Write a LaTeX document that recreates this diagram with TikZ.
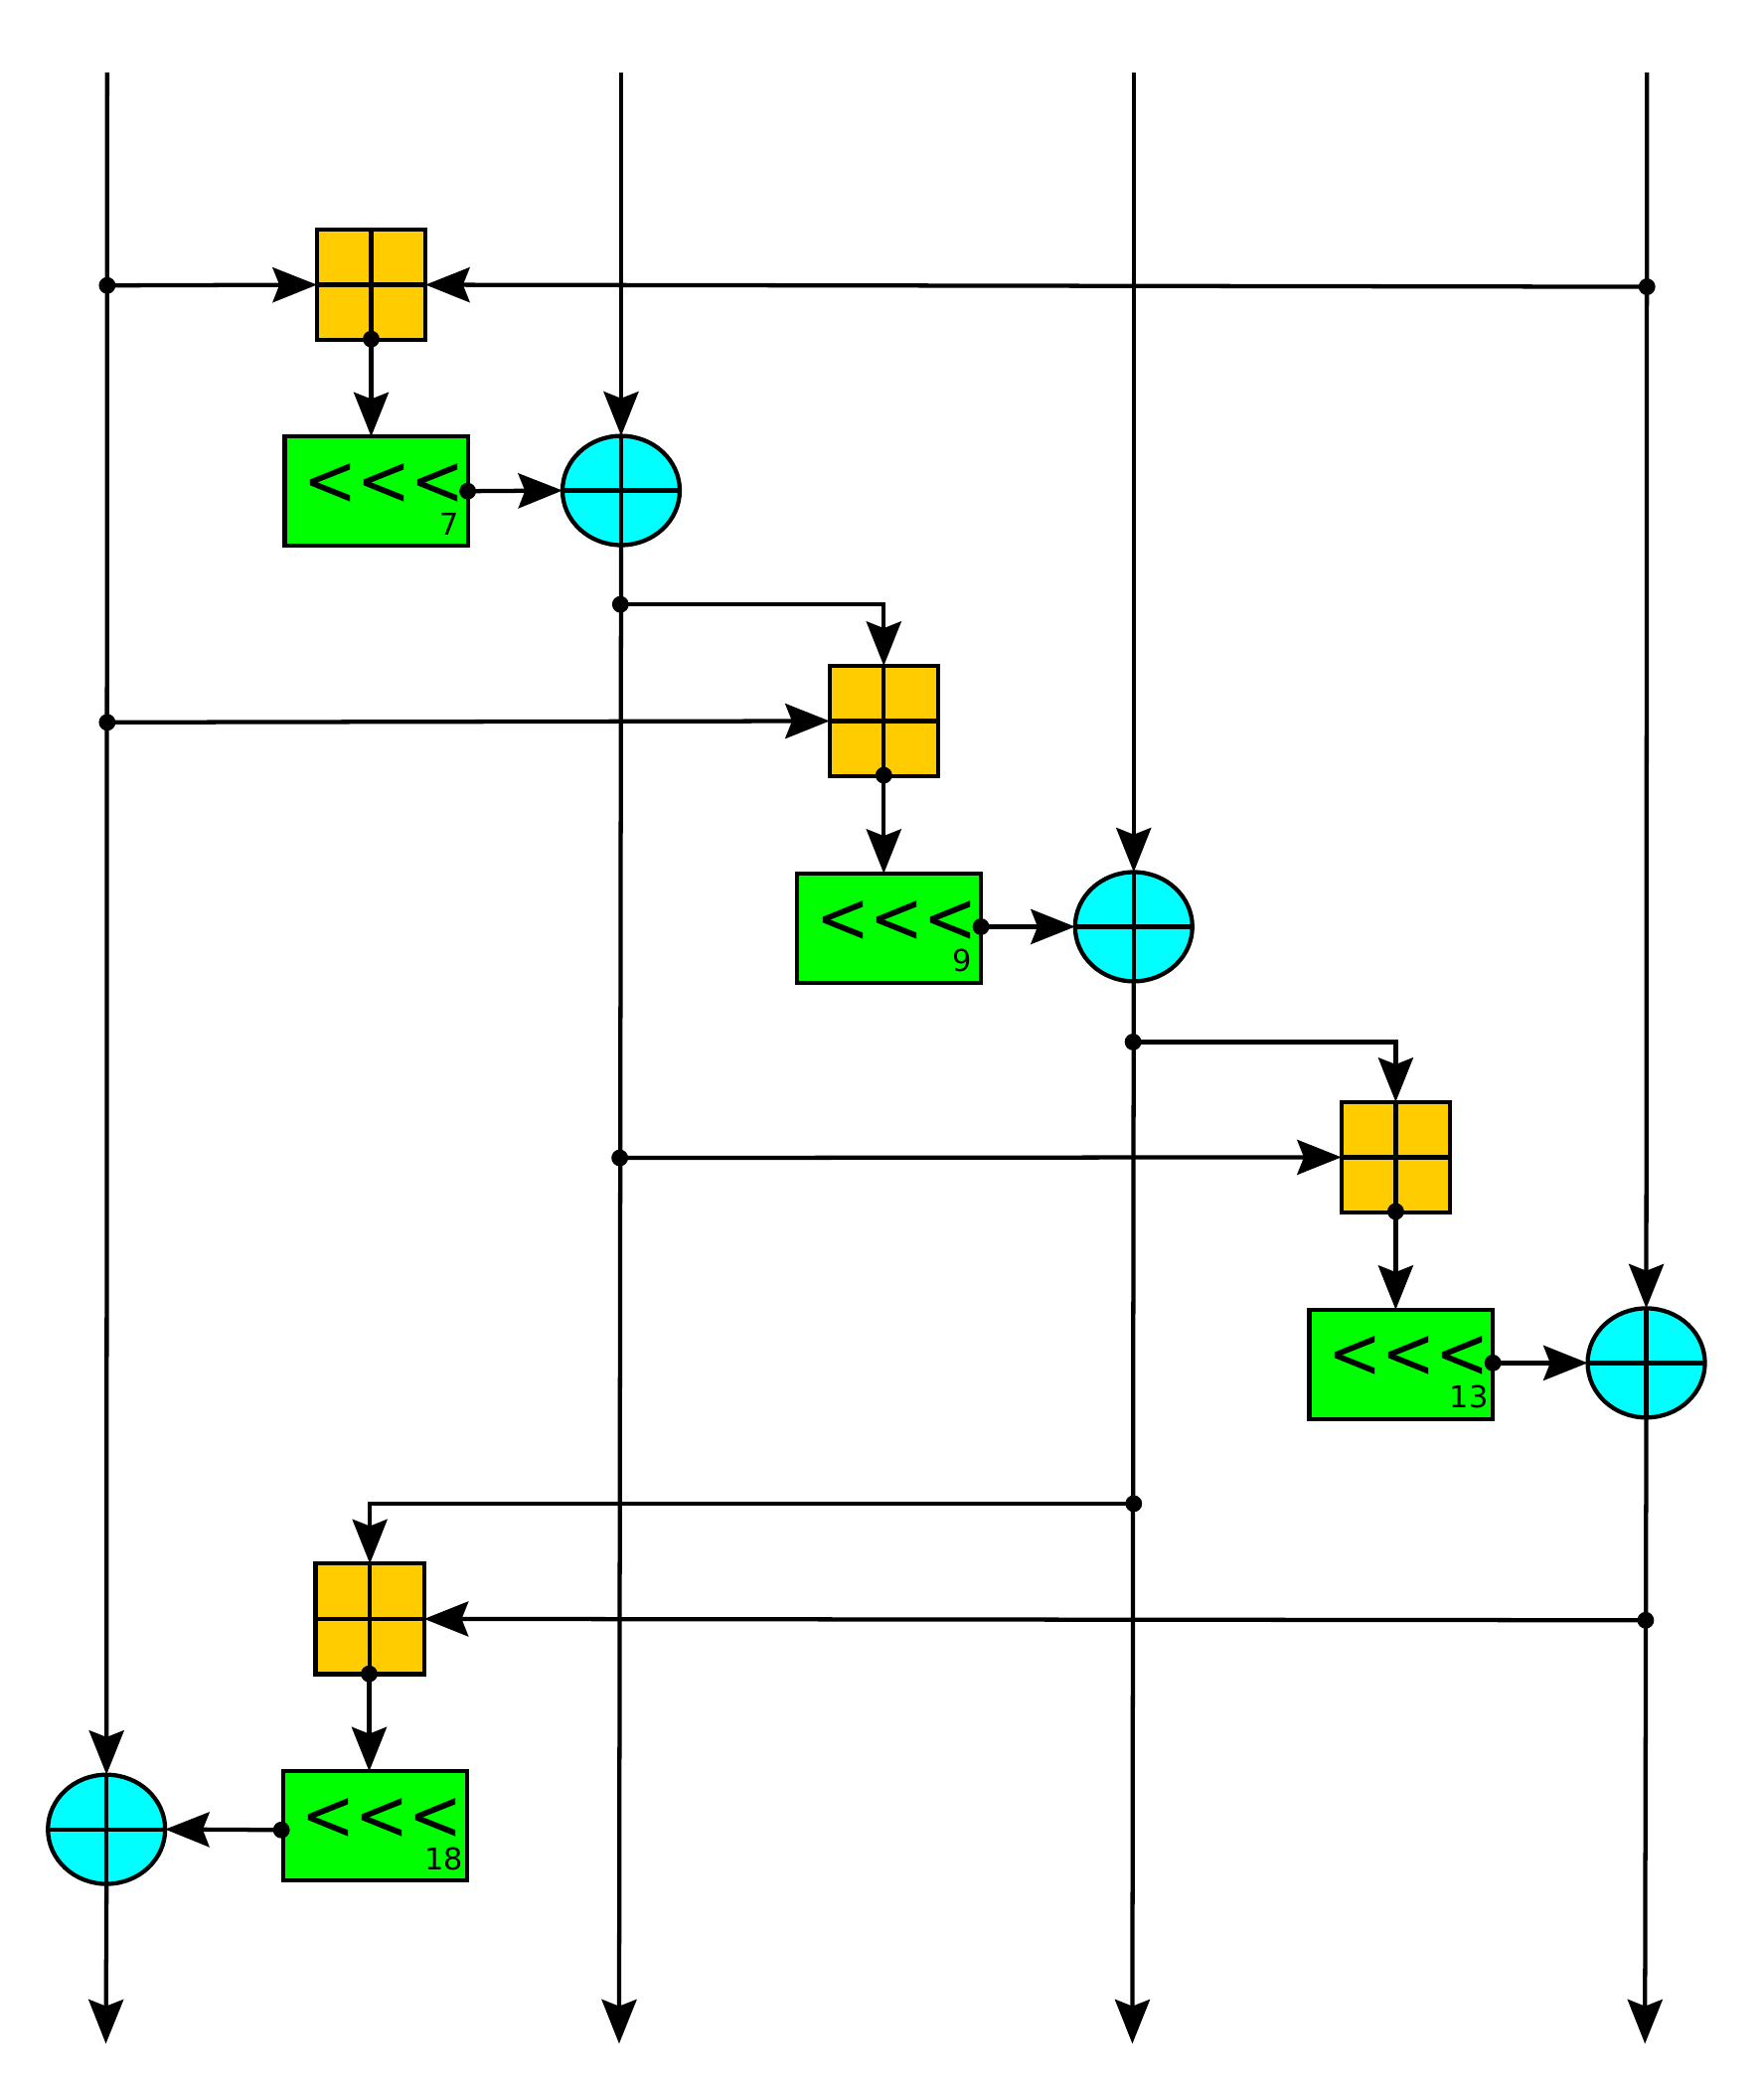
\documentclass[tikz,border=0pt]{standalone}
\usepackage{fontspec}
\setmainfont{DejaVu Sans}
\usetikzlibrary{arrows.meta,shapes.geometric}
\definecolor{addcol}{HTML}{FFCC00}
\definecolor{rotcol}{HTML}{00FF00}
\definecolor{xorcol}{HTML}{00FFFF}
\tikzset{
  addbox/.style={draw,rectangle,fill=addcol,outer sep=0pt,minimum width=.81cm,minimum height=.825cm,inner sep=0pt},
  rotbox/.style={draw,rectangle,fill=rotcol,outer sep=0pt,minimum width=1.37cm,minimum height=.815cm,inner sep=0pt},
  xorop/.style={draw,ellipse,fill=xorcol,outer sep=0pt,minimum width=.875cm,minimum height=.815cm,inner sep=0pt},
  jn/.style={circle,fill=black,minimum width=.125cm,inner sep=0pt},
  rottxt/.style={inner sep=0pt,font=\fontsize{13.6}{16}\selectfont},
  rotnum/.style={inner sep=0pt,anchor=east,font=\fontsize{6.4}{8}\selectfont},
  flow/.style={-{Stealth[length=3.3mm,width=2.6mm,inset=.5mm]}}
}
\begin{document}
\begin{tikzpicture}[line width=.9pt,x=1cm,y=-1cm]
    \useasboundingbox (0,0) rectangle (13.16,15.67);
    % the four words
    \coordinate (in1) at (.80,.54);
    \coordinate (in2) at (4.635,.54);
    \coordinate (in3) at (8.46,.54);
    \coordinate (in4) at (12.29,.54);
    \coordinate (out1) at (.79,15.25);
    \coordinate (out2) at (4.62,15.25);
    \coordinate (out3) at (8.45,15.25);
    \coordinate (out4) at (12.275,15.25);

    \node[addbox] (a1) at (2.77,2.125) {};
    \node[addbox] (a2) at (6.595,5.38) {};
    \node[addbox] (a3) at (10.415,8.635) {};
    \node[addbox] (a4) at (2.76,12.08) {};

    \node[rotbox] (r1) at (2.81,3.665) {};
    \node[rotbox] (r2) at (6.635,6.925) {};
    \node[rotbox] (r3) at (10.455,10.18) {};
    \node[rotbox] (r4) at (2.80,13.625) {};

    \node[xorop] (x1) at (4.635,3.66) {};
    \node[xorop] (x2) at (8.46,6.915) {};
    \node[xorop] (x3) at (12.285,10.17) {};
    \node[xorop] (x4) at (.795,13.65) {};

    \foreach \n in {a1,a2,a3,a4,x1,x2,x3,x4} {
        \draw (\n.north) -- (\n.south);
        \draw (\n.west) -- (\n.east);
    }
    \foreach \n/\s/\dx in {r1/7/.055,r2/9/.055,r3/13/.02,r4/18/.015} {
        \node[rottxt] (\n txt) at ([xshift=.055cm,yshift=.05cm]\n.center) {\scalebox{1}[1.12]{<\kern0pt<\kern0pt<}};
        \node[rotnum] (\n num) at ([xshift=-\dx cm,yshift=-.245cm]\n.east) {\s};
    }

    \node[jn] (d1) at (.80,2.13) {};
    \node[jn] (d2) at (12.29,2.14) {};
    \node[jn] (d3) at (2.77,2.53) {};
    \node[jn] (d4) at (3.49,3.665) {};
    \node[jn] (d5) at (4.63,4.51) {};
    \node[jn] (d6) at (.80,5.39) {};
    \node[jn] (d7) at (6.595,5.785) {};
    \node[jn] (d8) at (7.32,6.915) {};
    \node[jn] (d9) at (8.455,7.775) {};
    \node[jn] (d10) at (4.625,8.64) {};
    \node[jn] (d11) at (10.415,9.04) {};
    \node[jn] (d12) at (11.14,10.17) {};
    \node[jn] (d13) at (8.46,11.22) {};
    \node[jn] (d14) at (12.28,12.09) {};
    \node[jn] (d15) at (2.755,12.49) {};
    \node[jn] (d16) at (2.10,13.655) {};

    \draw[flow] (in1) -- (x4.north);
    \draw[flow] (x4.south) -- (out1);
    \draw[flow] (in2) -- (x1.north);
    \draw[flow] (x1.south) -- (out2);
    \draw[flow] (in3) -- (x2.north);
    \draw[flow] (x2.south) -- (out3);
    \draw[flow] (in4) -- (x3.north);
    \draw[flow] (x3.south) -- (out4);

    \draw[flow] (d1.center) -- (a1.west);
    \draw[flow] (d2.center) -- (a1.east);
    \draw[flow] (d3.center) -- (d3 |- r1.north);
    \draw[flow] (d4.center) -- (x1.west);
    \draw[flow] (d5.center) -| (a2.north);
    \draw[flow] (d6.center) -- (a2.west);
    \draw[flow] (d7.center) -- (d7 |- r2.north);
    \draw[flow] (d8.center) -- (x2.west);
    \draw[flow] (d9.center) -| (a3.north);
    \draw[flow] (d10.center) -- (a3.west);
    \draw[flow] (d11.center) -- (d11 |- r3.north);
    \draw[flow] (d12.center) -- (x3.west);
    \draw[flow] (d13.center) -| (a4.north);
    \draw[flow] (d14.center) -- (a4.east);
    \draw[flow] (d15.center) -- (d15 |- r4.north);
    \draw[flow] (d16.center) -- (x4.east);
\end{tikzpicture}
\end{document}
